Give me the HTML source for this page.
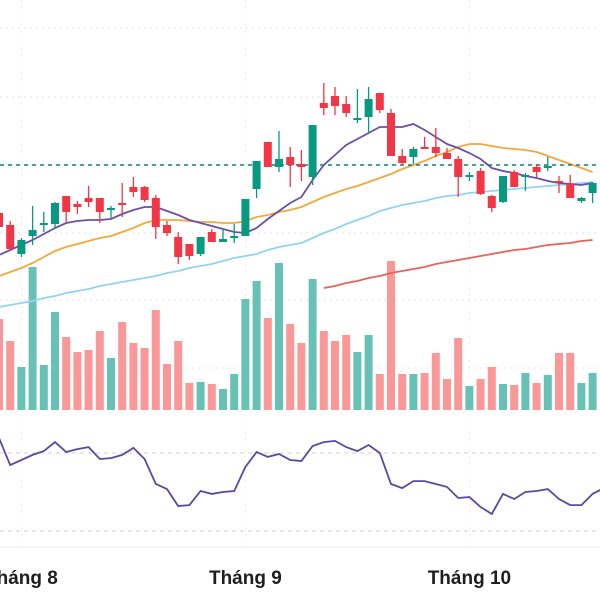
<!DOCTYPE html>
<html><head><meta charset="utf-8"><style>
html,body{margin:0;padding:0;background:#fff;width:600px;height:600px;overflow:hidden}
svg{display:block;font-family:"Liberation Sans",sans-serif}
</style></head><body>
<svg id="chart" width="600" height="600" xmlns="http://www.w3.org/2000/svg">
<g id="grid"></g>
<g id="vol"></g>
<g id="mas"></g>
<line x1="0" x2="600" y1="165" y2="165" stroke="#12806f" stroke-width="1.6" stroke-dasharray="4,4"/>
<g id="candles"></g>
<g id="rsi"></g>
<g id="xaxis"></g>
</svg>
<script>
const opens=[87,75,46,64,75,76,104,96,102,102,90,97,113,113,102,75,63,56,46,68,58,63,64,111,158,133,143,136,123,197,204,196,181,183,207,187,144,143,153,153,147,141,123,129,104,98,128,123,133,133,119,116,99,107];
const highs=[87,79,62,94,88,98,104,99,114,102,94,117,123,114,105,79,68,56,63,71,70,76,101,139,158,169,153,150,175,217,213,204,211,213,207,191,151,153,163,172,152,144,128,132,105,124,130,127,136,143,124,125,103,118];
const lows=[73,51,43,55,68,71,78,86,93,77,82,83,103,98,61,64,36,40,44,58,58,57,64,102,133,128,113,119,115,185,185,183,177,167,187,144,135,136,151,143,141,103,119,105,88,97,113,109,123,129,107,102,97,97];
const closes=[73,51,60,70,77,97,88,93,98,88,92,95,108,100,73,67,43,44,63,58,61,64,101,139,133,141,135,133,175,192,194,187,182,201,190,144,137,151,151,147,141,123,125,106,92,124,113,125,128,134,117,102,102,117];
const volumes=[91,69,43,143,45,98,73,58,60,79,52,88,67,62,100,46,69,27,28,26,21,36,111,129,92,147,86,67,131,79,69,75,58,75,36,149,36,36,37,57,31,72,24,31,43,26,25,37,27,35,57,57,27,37];
const maShort=[45,50,55,60,66,72,77,79,80,80,81,86,90,93,93,89,85,80,77,74,71,68,67,72,81,89,97,103,120,135,145,155,161,167,173,173,173,176,170,163,156,152,147,141,132,129,127,124,122,119,117,116,115,117];
const maMid=[24,28,32,37,43,49,53,56,59,62,64,68,72,77,80,80,80,79,78,78,77,77,79,83,85,88,90,93,98,103,107,111,114,118,122,126,131,135,139,144,148,153,156,156,154,152,151,150,148,144,140,136,132,128];
const maLong=[-7,-5,-3,-1,2,4,7,9,11,14,16,18,20,22,24,27,29,32,34,36,39,42,44,46,50,53,55,57,62,67,71,76,80,84,89,92,95,97,99,102,104,105,107,108,109,110,111,112,113,114,115,116,117,118];
const maSlowStart=29;
const maSlow=[12,14,17,19,22,24,27,29,31,33,36,38,40,42,44,46,48,50,51,53,55,56,57,59,60];
const rsiValues=[77.7,63.8,66.4,69,71,75.6,70.5,72,73,66.9,67.4,69,72.6,66.9,54.1,51.5,42.8,43.3,50.5,49,50,50.5,62.8,70.5,68,69.5,66.4,65.9,73.6,75.6,76.2,73,71,74.1,70,54.1,52,55.6,55.6,54.1,52.6,46.9,47.4,42.3,38.7,49,46.4,50,50.5,51.5,46.4,43.3,43.3,49,52];
const monthLabels=["Tháng 8","Tháng 9","Tháng 10"];
const monthIndex=[2,22,42];
const priceGrid=[272,203,135,67,0,-68];
const rsiLevels=[70,30];

const NS="http://www.w3.org/2000/svg";
const X=i=>-1+11.2*i;
const Y=p=>300-p;
const VY=v=>410-v;
const RY=r=>453+(70-r)*1.95;
function mk(tag,parent,attrs){const e=document.createElementNS(NS,tag);for(const k in attrs)e.setAttribute(k,attrs[k]);parent.appendChild(e);return e;}
const G=id=>document.getElementById(id);
const UP="#089981",DN="#f23645",UPV="#68c1b5",DNV="#f99896";

priceGrid.forEach(p=>{const l=mk('line',G('grid'),{x1:0,x2:600,y1:Y(p),y2:Y(p),stroke:'#e3e3e3','stroke-dasharray':'2,4'});

});
monthIndex.forEach(i=>{const l=mk('line',G('grid'),{x1:X(i),x2:X(i),y1:0,y2:547,stroke:'#ececec','stroke-dasharray':'2,4'});

});

volumes.forEach((v,i)=>{const up=closes[i]>=opens[i];
const r=mk('rect',G('vol'),{x:X(i)-4,y:VY(v),width:8,height:v,fill:up?UPV:DNV});

});

function path(vals,start,yf){return vals.map((v,k)=>(k?'L':'M')+X(start+k).toFixed(1)+' '+yf(v).toFixed(1)).join(' ');}
const lines=[[maLong,0,'#93d3f2','ma-long'],[maSlow,maSlowStart,'#e8625c','ma-slow'],[maMid,0,'#f2a93b','ma-mid'],[maShort,0,'#6a4fa8','ma-short']];
lines.forEach(([vals,s,c,n])=>{const p=mk('path',G('mas'),{d:path(vals,s,Y),fill:'none',stroke:c,'stroke-width':1.8});

});

opens.forEach((o,i)=>{const c=closes[i],up=c>=o,col=up?UP:DN,g=mk('g',G('candles'),{});


mk('line',g,{x1:X(i),x2:X(i),y1:Y(highs[i]),y2:Y(lows[i]),stroke:col,'stroke-width':1.3});
const t=Y(Math.max(o,c)),b=Y(Math.min(o,c));
mk('rect',g,{x:X(i)-4,y:t,width:8,height:Math.max(2,b-t),fill:col});});

rsiLevels.forEach(r=>{const l=mk('line',G('rsi'),{x1:0,x2:600,y1:RY(r),y2:RY(r),stroke:'#cfcfcf','stroke-dasharray':'4,4'});

});
const rp=mk('path',G('rsi'),{d:path(rsiValues,0,RY),fill:'none',stroke:'#5b48a0','stroke-width':1.8});


const sep=mk('line',G('rsi'),{x1:0,x2:600,y1:547,y2:547,stroke:'#eeeeee','stroke-width':1});



monthLabels.forEach((t,k)=>{const e=mk('text',G('xaxis'),{x:X(monthIndex[k]),y:584,'text-anchor':'middle','font-size':'19','font-weight':'bold',fill:'#1e1e1e'});
e.textContent=t;

});
</script>
</body></html>
